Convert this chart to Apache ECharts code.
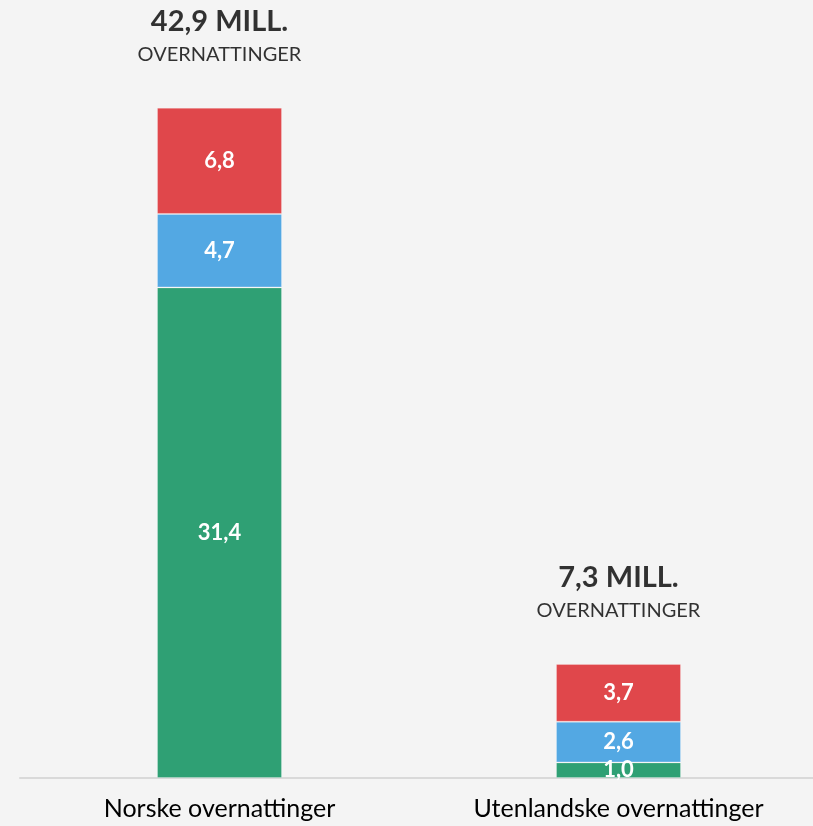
<!DOCTYPE html>
<html><head><meta charset="utf-8">
<script src="https://cdn.jsdelivr.net/npm/echarts@6/dist/echarts.min.js"></script>
<style>html,body{margin:0;padding:0;background:#f4f4f4;overflow:hidden;}#c{width:830px;height:826px;}</style>
</head><body><div id="c"></div>
<script>
const categories = ['Norske overnattinger', 'Utenlandske overnattinger'];
const greenValues = [31.4, 1.0];
const blueValues = [4.7, 2.6];
const redValues = [6.8, 3.7];
const totals = [42.9, 7.3];

const fmt = v => v.toFixed(1).replace('.', ',');
const FONT = 'Lato, "Open Sans", sans-serif';
const segLabel = {show: true, position: 'inside', color: '#fff', fontWeight: 'bold', fontSize: 22, fontFamily: FONT, formatter: p => fmt(p.value)};
function seg(name, data, color) {
  return {name, type: 'bar', stack: 'a', data, barWidth: 125,
    itemStyle: {color, borderColor: 'rgba(255,255,255,0.25)', borderWidth: 1},
    label: segLabel};
}
const chart = echarts.init(document.getElementById('c'));
chart.setOption({
  backgroundColor: '#f4f4f4',
  animation: false,
  grid: {left: 20, right: 12, top: 28, bottom: 48},
  xAxis: {type: 'category', data: categories,
    axisLine: {lineStyle: {color: '#d9d9d9', width: 2}}, axisTick: {show: false},
    axisLabel: {color: '#000', fontSize: 25, fontFamily: FONT, margin: 18}},
  yAxis: {type: 'value', min: 0, max: 48, show: false, splitLine: {show: false}},
  series: [
    seg('green', greenValues, '#2fa074'),
    seg('blue', blueValues, '#53a8e3'),
    seg('red', redValues, '#e0474b'),
    {type: 'scatter', data: totals, symbolSize: 0, z: 10,
      label: {show: true, position: 'top', distance: 40, color: '#000',
        formatter: p => '{a|' + fmt(p.value) + ' MILL.}\n{b|OVERNATTINGER}',
        rich: {
          a: {fontSize: 29, fontWeight: 'bold', color: '#000', fontFamily: FONT, lineHeight: 40, align: 'center'},
          b: {fontSize: 20, color: '#000', fontFamily: FONT, lineHeight: 26, align: 'center'}
        }}}
  ]
});
</script></body></html>
